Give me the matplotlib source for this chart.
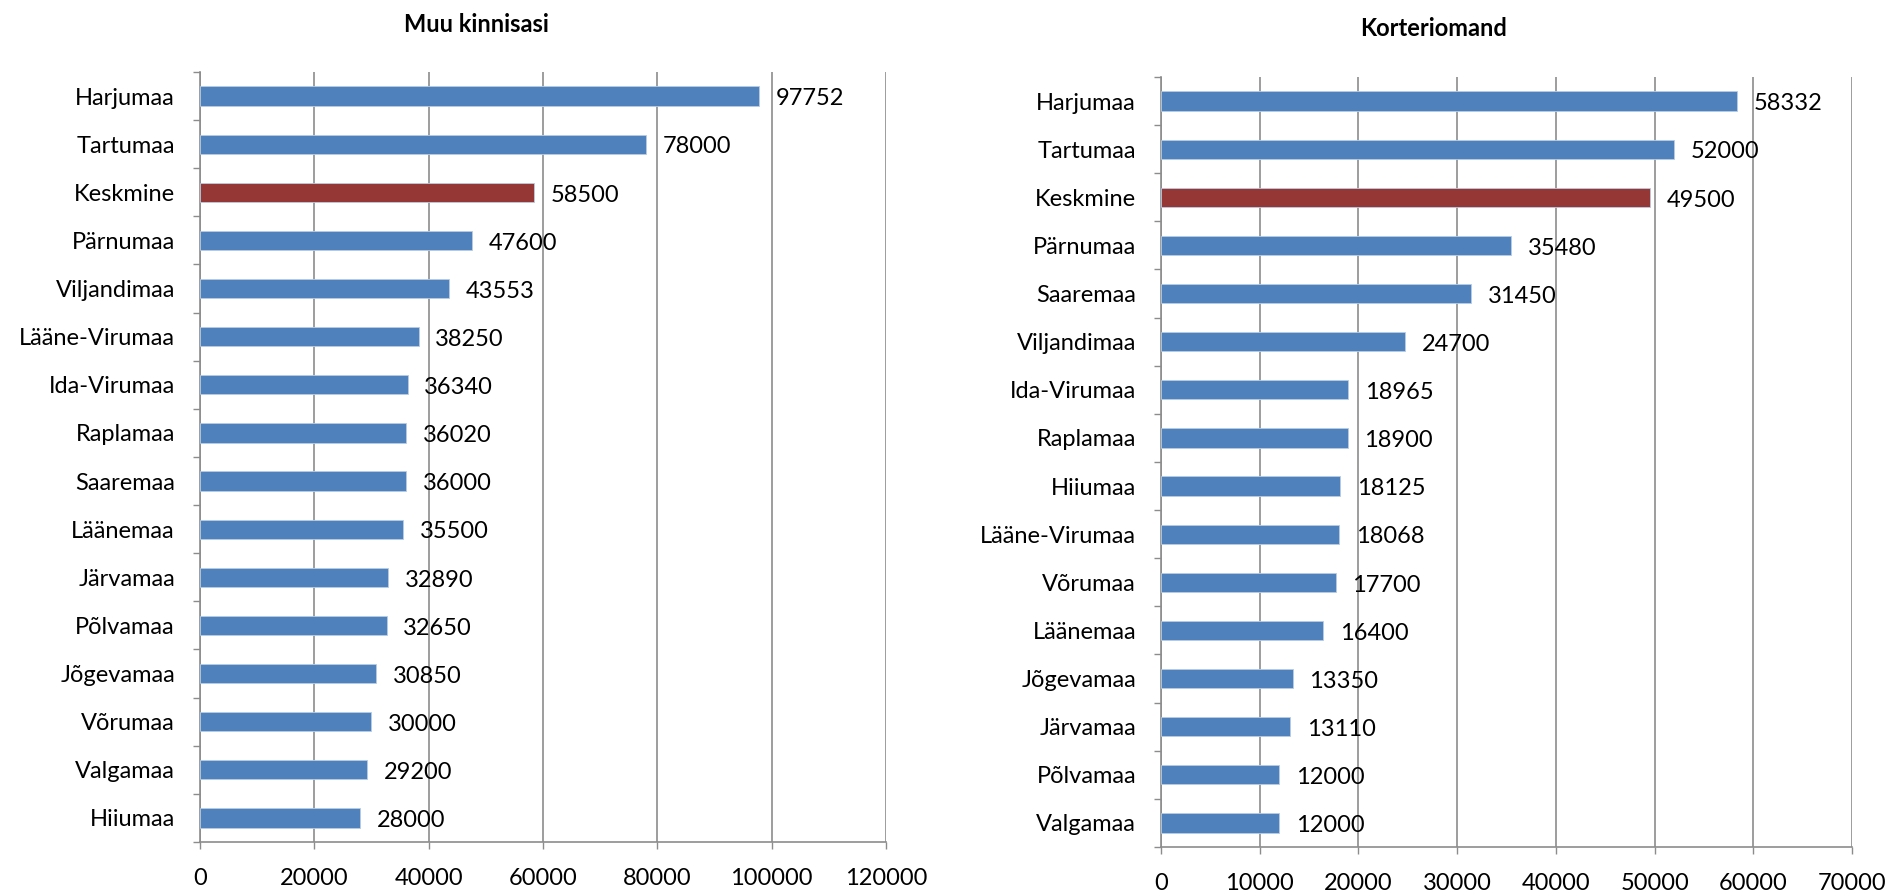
import numpy as np
from matplotlib import pyplot as plt
from matplotlib.ticker import MultipleLocator

plt.rcParams['font.family'] = ['Lato', 'DejaVu Sans']

left_title = "Muu kinnisasi"
left_names = ["Harjumaa", "Tartumaa", "Keskmine", "Pärnumaa", "Viljandimaa", "Lääne-Virumaa",
              "Ida-Virumaa", "Raplamaa", "Saaremaa", "Läänemaa", "Järvamaa", "Põlvamaa",
              "Jõgevamaa", "Võrumaa", "Valgamaa", "Hiiumaa"]
left_values = [97752, 78000, 58500, 47600, 43553, 38250, 36340, 36020, 36000, 35500,
               32890, 32650, 30850, 30000, 29200, 28000]

right_title = "Korteriomand"
right_names = ["Harjumaa", "Tartumaa", "Keskmine", "Pärnumaa", "Saaremaa", "Viljandimaa",
               "Ida-Virumaa", "Raplamaa", "Hiiumaa", "Lääne-Virumaa", "Võrumaa", "Läänemaa",
               "Jõgevamaa", "Järvamaa", "Põlvamaa", "Valgamaa"]
right_values = [58332, 52000, 49500, 35480, 31450, 24700, 18965, 18900, 18125, 18068,
                17700, 16400, 13350, 13110, 12000, 12000]

BLUE = '#4F81BD'
RED = '#953735'
GRID = '#8c8c8c'
FS = 17


def draw_panel(ax, names, values, title, xmax, step, title_x, title_y):
    n = len(names)
    y = np.arange(n)
    colors = [RED if nm == "Keskmine" else BLUE for nm in names]
    ax.barh(y, values, height=0.4, color=colors, edgecolor='#b8cce4', linewidth=0.6, zorder=3)
    for yi, v in zip(y, values):
        ax.annotate(str(v), (v, yi), xytext=(12, -2), textcoords='offset points',
                    va='center', ha='left', fontsize=FS)
    ax.set_ylim(n - 0.5, -0.5)
    ax.set_xlim(0, xmax)
    ax.set_yticks(y)
    ax.set_yticklabels(names, fontsize=FS)
    ax.yaxis.set_minor_locator(MultipleLocator(1, offset=0.5))
    ax.tick_params(axis='y', which='major', length=0, pad=18)
    ax.tick_params(axis='y', which='minor', length=5, color=GRID, width=1)
    ax.xaxis.set_major_locator(MultipleLocator(step))
    ax.tick_params(axis='x', length=5, color=GRID, width=1, labelsize=FS, pad=14)
    ax.grid(axis='x', color=GRID, linewidth=1.2, zorder=0)
    for s in ['top', 'right']:
        ax.spines[s].set_visible(False)
    for s in ['left', 'bottom']:
        ax.spines[s].set_color(GRID)
        ax.spines[s].set_linewidth(1.2)
    ax.figure.text(title_x, title_y, title, ha='center', va='center',
                   fontsize=17, fontweight='bold')


fig = plt.figure(figsize=(18.9, 8.94), dpi=100)
ax1 = fig.add_axes([0.1058, 0.0582, 0.363, 0.8613])
ax2 = fig.add_axes([0.6143, 0.0526, 0.3656, 0.8613])

draw_panel(ax1, left_names, left_values, left_title, 120000, 20000, 476 / 1890, 1 - 25 / 894)
draw_panel(ax2, right_names, right_values, right_title, 70000, 10000, 1434 / 1890, 1 - 29 / 894)

fig.savefig('out.png', dpi=100)
